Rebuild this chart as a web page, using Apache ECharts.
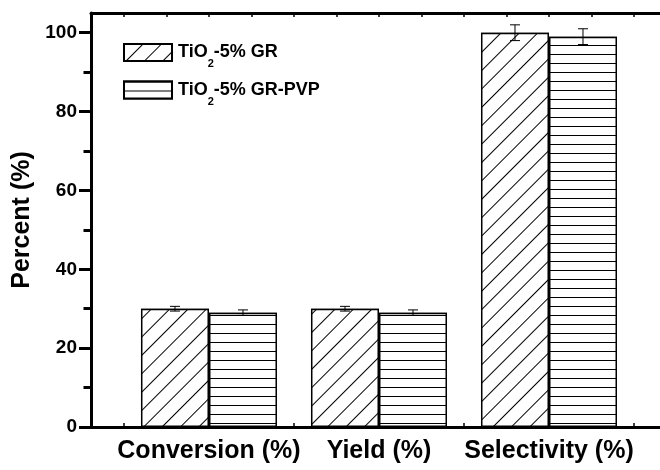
<!DOCTYPE html>
<html>
<head>
<meta charset="utf-8">
<script src="https://cdn.jsdelivr.net/npm/echarts@6/dist/echarts.min.js"></script>
<style>html,body{margin:0;padding:0;background:#fff}#c{width:660px;height:470px}</style>
</head>
<body>
<div id="c"></div>
<script>
var categories = ['Conversion (%)', 'Yield (%)', 'Selectivity (%)'];
var categoryPositions = [1, 2, 3];
var seriesNames = ['TiO2-5% GR', 'TiO2-5% GR-PVP'];
var grValues = [30, 30, 100];
var grErrors = [0.6, 0.6, 2.0];
var pvpValues = [29, 29, 99];
var pvpErrors = [0.7, 0.7, 2.0];
var yTicks = [0, 20, 40, 60, 80, 100];
var yMinorTicks = [10, 30, 50, 70, 90];
var xTicks = [0.5, 0.75, 1, 1.25, 1.5, 1.75, 2, 2.25, 2.5, 2.75, 3, 3.25, 3.5, 3.75];

var FONT = 'Liberation Sans, Arial, sans-serif';
var xMin = 0.306, xMax = 3.8;
var barFrac = 0.4; // bar width in axis units

var chart = echarts.init(document.getElementById('c'));

function pairs(vals) {
  return vals.map(function (v, i) { return [categoryPositions[i], v]; });
}
function errData(vals, errs) {
  return vals.map(function (v, i) { return [categoryPositions[i], v, errs[i]]; });
}
function errRender(offset) {
  return function (params, api) {
    var x = api.value(0) + offset;
    var v = api.value(1), e = api.value(2);
    var top = api.coord([x, v + e]);
    var bot = api.coord([x, v - e]);
    var hw = 5;
    var st = { stroke: '#000', lineWidth: 1 };
    return {
      type: 'group',
      children: [
        { type: 'line', shape: { x1: top[0], y1: top[1], x2: bot[0], y2: bot[1] }, style: st },
        { type: 'line', shape: { x1: top[0] - hw, y1: top[1], x2: top[0] + hw, y2: top[1] }, style: st },
        { type: 'line', shape: { x1: bot[0] - hw, y1: bot[1], x2: bot[0] + hw, y2: bot[1] }, style: st }
      ]
    };
  };
}

var hatchDecal = {
  symbol: 'rect', symbolSize: 1, color: '#000', backgroundColor: '#fff',
  dashArrayX: [1, 0], dashArrayY: [0.8, 11.2], rotation: -Math.PI / 4
};
var stripeDecal = {
  symbol: 'rect', symbolSize: 1, color: '#000', backgroundColor: '#fff',
  dashArrayX: [1, 0], dashArrayY: [1, 7.3], rotation: 0
};

var legendRich = {
  a: { fontFamily: FONT, fontWeight: 'bold', fontSize: 18, color: '#000', lineHeight: 34, verticalAlign: 'middle' },
  s: { fontFamily: FONT, fontWeight: 'bold', fontSize: 11, color: '#000', lineHeight: 12, verticalAlign: 'bottom' }
};

var option = {
  backgroundColor: '#fff',
  animation: false,
  grid: { left: 91, right: -25, top: 13, bottom: 43, outerBoundsMode: 'none', containLabel: false },
  legend: {
    left: 123, top: 43, orient: 'vertical', padding: 0,
    itemWidth: 48, itemHeight: 17, itemGap: 11,
    data: [
      { name: seriesNames[0], icon: 'rect' },
      { name: seriesNames[1], icon: 'rect' }
    ],
    formatter: function (n) {
      return '{a|TiO}{s|2}{a|' + n.replace('TiO2', '') + '}';
    },
    textStyle: { rich: legendRich, padding: [0, 0, 0, 1] }
  },
  xAxis: [
    {
      type: 'value', min: xMin, max: xMax, position: 'bottom',
      axisLine: { show: true, onZero: false, lineStyle: { color: '#000', width: 3 } },
      axisTick: { show: true, inside: true, length: 4, customValues: xTicks, lineStyle: { color: '#000', width: 1.5 } },
      axisLabel: {
        customValues: categoryPositions, margin: 12,
        fontFamily: FONT, fontWeight: 'bold', fontSize: 25, color: '#000',
        formatter: function (v) { return categories[Math.round(v) - 1]; }
      },
      splitLine: { show: false }
    },
    {
      type: 'value', min: xMin, max: xMax, position: 'top',
      axisLine: { show: true, onZero: false, lineStyle: { color: '#000', width: 3 } },
      axisTick: { show: true, inside: true, length: 4, customValues: xTicks, lineStyle: { color: '#000', width: 1.5 } },
      axisLabel: { show: false },
      splitLine: { show: false }
    }
  ],
  yAxis: [
    {
      type: 'value', min: 0, max: 105, position: 'left',
      name: 'Percent (%)', nameLocation: 'middle', nameGap: 54,
      nameTextStyle: { fontFamily: FONT, fontWeight: 'bold', fontSize: 25, color: '#000' },
      axisLine: { show: true, onZero: false, lineStyle: { color: '#000', width: 3 } },
      axisTick: { show: true, inside: false, length: 12, customValues: yTicks, lineStyle: { color: '#000', width: 3 } },
      axisLabel: { customValues: yTicks, margin: 14, fontFamily: FONT, fontWeight: 'bold', fontSize: 19, color: '#000' },
      splitLine: { show: false }
    },
    {
      type: 'value', min: 0, max: 105, position: 'left', offset: 0,
      axisLine: { show: false, onZero: false },
      axisTick: { show: true, inside: false, length: 7.5, customValues: yMinorTicks, lineStyle: { color: '#000', width: 3 } },
      axisLabel: { show: false },
      splitLine: { show: false }
    }
  ],
  series: [
    {
      name: seriesNames[0], type: 'bar', xAxisIndex: 0, yAxisIndex: 0,
      barWidth: '40%', barGap: '0%',
      itemStyle: { color: '#fff', borderColor: '#000', borderWidth: 1.5, decal: hatchDecal },
      data: pairs(grValues)
    },
    {
      name: seriesNames[1], type: 'bar', xAxisIndex: 0, yAxisIndex: 0,
      barWidth: '40%', barGap: '0%',
      itemStyle: { color: '#fff', borderColor: '#000', borderWidth: 1.5, decal: stripeDecal },
      data: pairs(pvpValues)
    },
    {
      type: 'custom', xAxisIndex: 0, yAxisIndex: 0, z: 5,
      renderItem: errRender(-barFrac / 2), encode: { x: 0, y: 1 },
      data: errData(grValues, grErrors)
    },
    {
      type: 'custom', xAxisIndex: 0, yAxisIndex: 0, z: 5,
      renderItem: errRender(barFrac / 2), encode: { x: 0, y: 1 },
      data: errData(pvpValues, pvpErrors)
    }
  ]
};
chart.setOption(option);
</script>
</body>
</html>
